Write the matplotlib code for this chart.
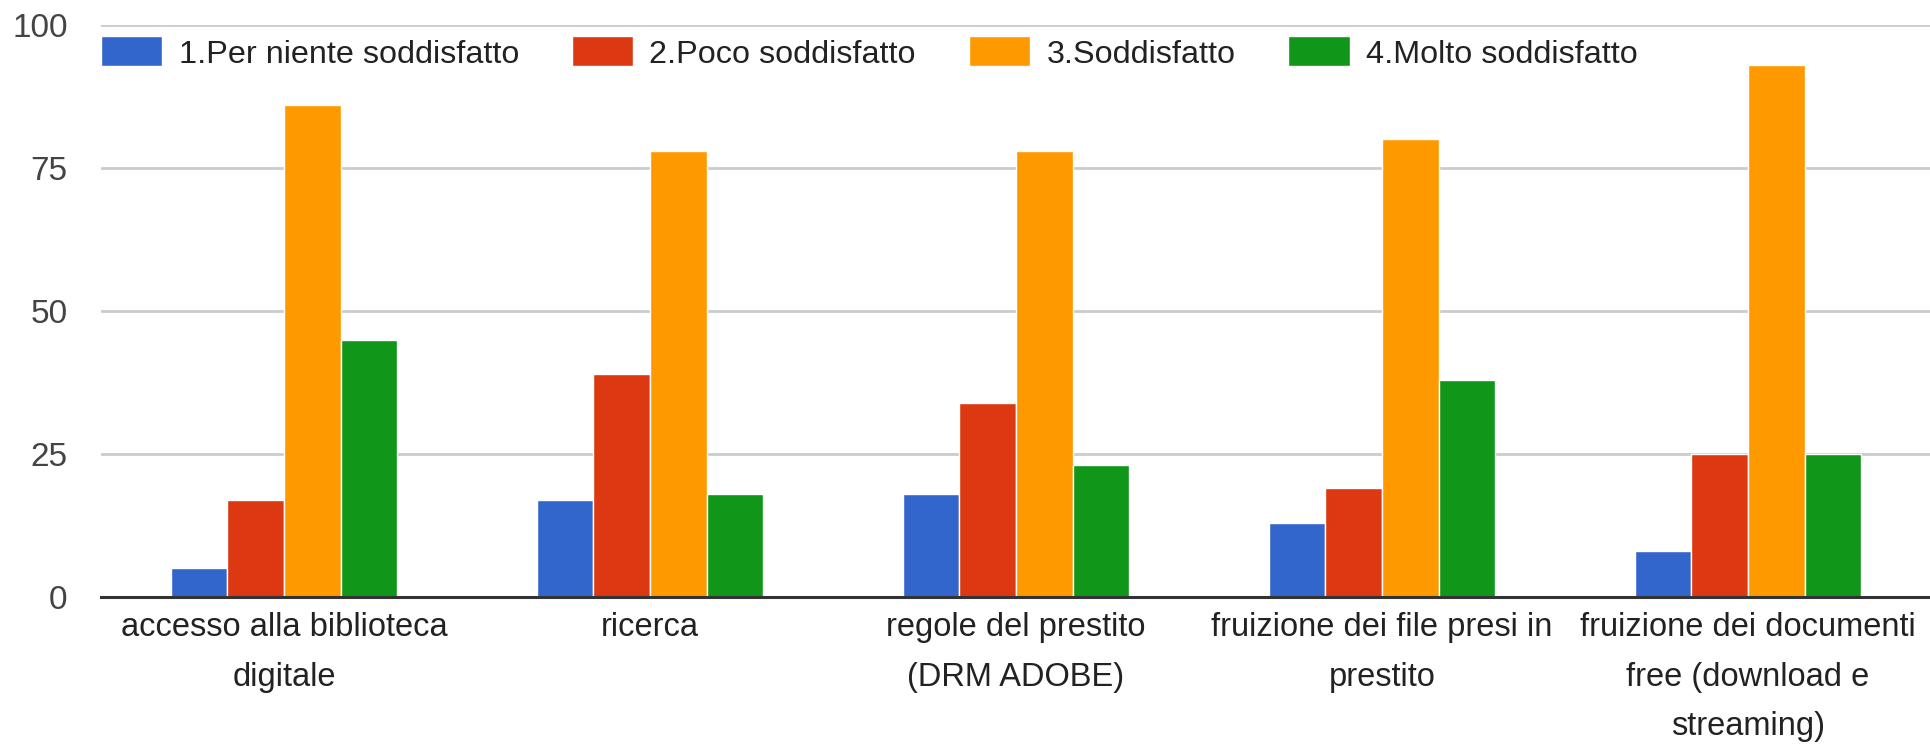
import matplotlib
matplotlib.use('Agg')
import matplotlib.pyplot as plt
import numpy as np

categories = ['accesso alla biblioteca\ndigitale', 'ricerca',
              'regole del prestito\n(DRM ADOBE)', 'fruizione dei file presi in\nprestito',
              'fruizione dei documenti\nfree (download e\nstreaming)']
series_names = ['1.Per niente soddisfatto', '2.Poco soddisfatto',
                '3.Soddisfatto', '4.Molto soddisfatto']
per_niente = [5, 17, 18, 13, 8]
poco = [17, 39, 34, 19, 25]
soddisfatto = [86, 78, 78, 80, 93]
molto = [45, 18, 23, 38, 25]
y_ticks = [0, 25, 50, 75, 100]

colors = ['#3366cc', '#dc3912', '#ff9900', '#109618']

plt.rcParams['font.family'] = ['Liberation Sans', 'DejaVu Sans']

fig = plt.figure(figsize=(19.31, 7.44), dpi=100)
ax = fig.add_axes([101 / 1931, 1 - 597 / 744, 1 - 101 / 1931, (597 - 25) / 744])

x = np.arange(len(categories))
width = 0.155
all_series = [per_niente, poco, soddisfatto, molto]
handles = []
for i, vals in enumerate(all_series):
    offs = (i - 1.5) * width
    b = ax.bar(x + offs, vals, width, color=colors[i], edgecolor='white',
               linewidth=1.0, label=series_names[i], zorder=3)
    handles.append(b)

ax.set_xlim(-0.5, len(categories) - 0.5)
ax.set_ylim(0, 100)
ax.set_yticks(y_ticks)
ax.set_yticklabels([str(v) for v in y_ticks])
ax.set_xticks(x)
ax.set_xticklabels(categories, linespacing=1.76)

ax.tick_params(axis='y', length=0, pad=24, labelsize=24, labelcolor='#444444')
ax.tick_params(axis='x', length=0, pad=11, labelsize=23.5, labelcolor='#222222')
ax.yaxis.grid(True, color='#cccccc', linewidth=2, zorder=0)
ax.set_axisbelow(True)
for s in ['top', 'right', 'left']:
    ax.spines[s].set_visible(False)
ax.spines['bottom'].set_color('#333333')
ax.spines['bottom'].set_linewidth(2.2)
ax.spines['bottom'].set_zorder(4)

# legend across the top, inside the plot area
leg = fig.legend(handles=handles, labels=series_names, loc='center left',
                 bbox_to_anchor=(101 / 1931, 1 - 53 / 744), ncol=4, frameon=False,
                 fontsize=23.3, handlelength=1.9, handleheight=1.05, handletextpad=0.5,
                 columnspacing=1.63, borderpad=0, borderaxespad=0)
for t in leg.get_texts():
    t.set_color('#222222')

fig.savefig('out.png', dpi=100, facecolor='white')
